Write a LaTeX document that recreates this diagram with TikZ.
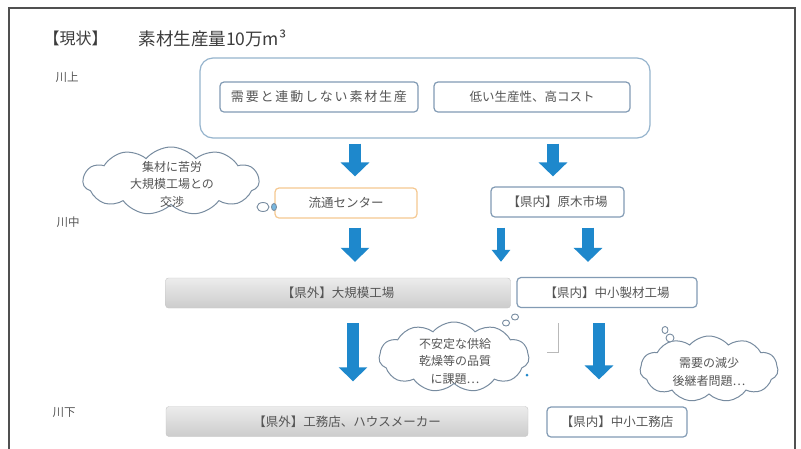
\documentclass[tikz,border=0pt]{standalone}
\usepackage{fontspec}
\setmainfont{Noto Sans CJK JP}
\usetikzlibrary{shapes.symbols,shapes.geometric,arrows.meta,calc}
\definecolor{arrowblue}{RGB}{30,136,204}
\definecolor{framec}{RGB}{80,80,80}
\definecolor{boxc}{RGB}{130,155,180}
\definecolor{bigc}{RGB}{150,180,205}
\definecolor{orangec}{RGB}{245,200,145}
\definecolor{textc}{RGB}{85,85,85}
\definecolor{titlec}{RGB}{60,60,60}
\definecolor{cloudc}{RGB}{120,140,160}
\tikzset{
  box/.style={draw=boxc, line width=1.2pt, rounded corners=4pt, fill=white,
    minimum height=30pt, text=textc, font=\fontsize{12.5}{15}\selectfont, inner sep=0pt},
  obox/.style={box, draw=orangec},
  graybox/.style={rounded corners=3pt, top color=gray!15, bottom color=gray!40, draw=gray!45,
    line width=0.4pt, minimum height=30pt, text=textc, font=\fontsize{12.5}{15}\selectfont, inner sep=0pt},
  barrow/.style={draw=arrowblue, line width=12pt, -{Triangle[length=14pt,width=28pt]}},
  narrow/.style={draw=arrowblue, line width=8pt, -{Triangle[length=12pt,width=18pt]}},
  cloudshape/.style={cloud, cloud puffs=11, cloud puff arc=100, cloud ignores aspect, draw=cloudc, line width=1pt,
    fill=white, inner sep=0pt},
  cloudtext/.style={align=center, text=textc, font=\fontsize{12}{17.5}\selectfont},
  bubble/.style={ellipse, draw=cloudc, line width=0.9pt, fill=white, inner sep=0pt},
  rowlabel/.style={text=textc, font=\fontsize{11.5}{14}\selectfont},
}
\begin{document}
\begin{tikzpicture}[x=1pt,y=1pt]
\useasboundingbox (0,0) rectangle (801,-448);
\fill[white] (0,0) rectangle (801,-448);
\draw[framec, line width=1.6pt] (9,-460) -- (9,-8) -- (795,-8) -- (795,-460);

% title
\node[text=titlec, font=\fontsize{16}{19}\selectfont, anchor=west] (t1) at (40,-38) {【現状】};
\node[text=titlec, font=\fontsize{17.5}{20}\selectfont, anchor=west] (t2) at (135,-38) {素材生産量10万m³};

% row labels
\node[rowlabel] (r1) at (67,-77) {川上};
\node[rowlabel] (r2) at (68,-222) {川中};
\node[rowlabel] (r3) at (64,-412) {川下};

% upstream
\node[draw=bigc, line width=1.2pt, rounded corners=13pt, fill=white, minimum width=450pt, minimum height=80pt] (big) at (425,-98) {};
\node[box, minimum width=198pt, font=\fontsize{13}{15}\selectfont\addfontfeature{LetterSpace=14}] (need) at (319,-97) {需要と連動しない素材生産};
\node[box, minimum width=196pt] (low) at (532,-97) {低い生産性、高コスト};

% midstream
\node[obox, minimum width=142pt] (dist) at (346,-203) {流通センター};
\node[box, minimum width=133pt] (mkt) at (557.5,-202) {【県内】原木市場};
\node[graybox, minimum width=345pt] (bigfac) at (338,-293) {【県外】大規模工場};
\node[box, minimum width=180pt] (smallfac) at (607,-292.5) {【県内】中小製材工場};

% downstream
\node[graybox, minimum width=362pt] (house) at (347,-421.5) {【県外】工務店、ハウスメーカー};
\node[box, minimum width=140pt] (koumu) at (617,-422) {【県内】中小工務店};

% arrows
\draw[barrow, shorten <=5pt, shorten >=11pt] ([xshift=9pt]dist.north |- big.south) -- ([xshift=9pt]dist.north);
\draw[barrow, shorten <=5pt, shorten >=10pt] ([xshift=-4.5pt]mkt.north |- big.south) -- ([xshift=-4.5pt]mkt.north);
\draw[barrow, shorten <=9pt, shorten >=16pt] ([xshift=9pt]dist.south) -- ([xshift=9pt]dist.south |- bigfac.north);
\draw[narrow, shorten <=10pt, shorten >=16pt] ([xshift=-56.5pt]mkt.south) -- ([xshift=-56.5pt]mkt.south |- bigfac.north);
\draw[barrow, shorten <=10pt, shorten >=15pt] ([xshift=30.5pt]mkt.south) -- ([xshift=30.5pt]mkt.south |- smallfac.north);
\draw[barrow, shorten <=15pt, shorten >=25pt] ([xshift=15pt]bigfac.south) -- ([xshift=15pt]bigfac.south |- house.north);
\draw[barrow, shorten <=15pt, shorten >=27pt] ([xshift=-8pt]smallfac.south) -- ([xshift=-8pt]smallfac.south |- koumu.north);

% cloud 1
\node[cloudshape, minimum width=176pt, minimum height=68pt] (c1) at (171,-181) {};
\node[cloudtext] (c1t) at (172,-184) {集材に苦労\\大規模工場との\\交渉};
\node[bubble, minimum width=12pt, minimum height=9pt] (c1b1) at (263,-207) {};
\node[bubble, fill=arrowblue!60, minimum width=5pt, minimum height=7pt] (c1b2) at (274,-207) {};

% cloud 2
\node[cloudshape, minimum width=150pt, minimum height=70pt] (c2) at (454,-357) {};
\node[cloudtext] (c2t) at (455,-361) {不安定な供給\\乾燥等の品質\\に課題…};
\node[bubble, minimum width=7pt, minimum height=6pt] (c2b1) at (506,-323) {};
\node[bubble, minimum width=7pt, minimum height=6pt] (c2b2) at (515,-317) {};
\coordinate (e1) at (558,-323);
\coordinate (e2) at (547,-352);
\draw[gray!55, line width=0.6pt] (e1) |- (e2);
\node[circle, fill=arrowblue, inner sep=0pt, minimum size=3pt] (dot) at (527,-375) {};

% cloud 3
\node[cloudshape, minimum width=138pt, minimum height=66pt] (c3) at (709,-369) {};
\node[cloudtext] (c3t) at (709,-372) {需要の減少\\後継者問題…};
\node[bubble, minimum width=6pt, minimum height=7pt] (c3b1) at (665,-330) {};
\node[bubble, minimum width=8pt, minimum height=8pt] (c3b2) at (670,-338) {};
\end{tikzpicture}
\end{document}
